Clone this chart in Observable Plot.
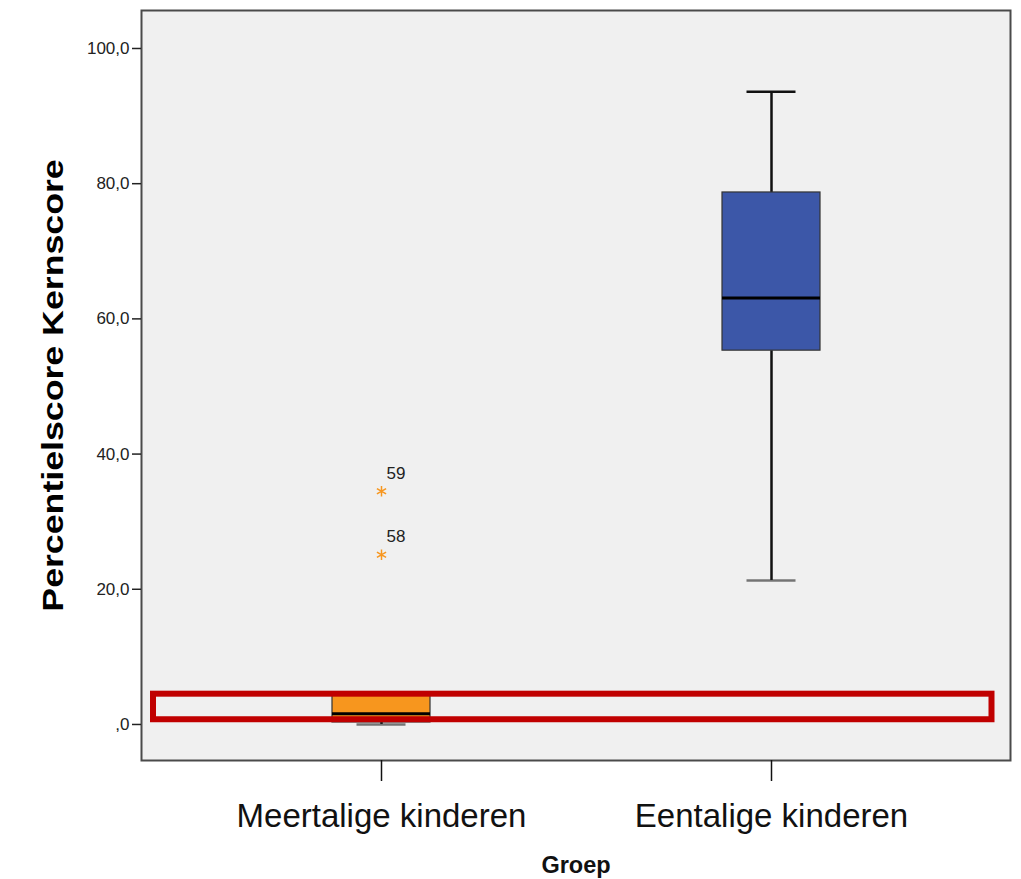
<!DOCTYPE html>
<html>
<head>
<meta charset="utf-8">
<script src="https://cdn.jsdelivr.net/npm/d3@7"></script>
<script src="https://cdn.jsdelivr.net/npm/@observablehq/plot@0.6"></script>
<style>
  html, body { margin: 0; padding: 0; background: #ffffff; }
  #chart svg { display: block; }
</style>
</head>
<body>
<div id="chart"></div>
<script>
// Groups (x categories)
const groups = ["Meertalige kinderen", "Eentalige kinderen"];
// Box-plot summary values per group
const lowerWhisker = [0.0, 21.3];
const q1 = [0.3, 55.3];
const median = [1.6, 63.1];
const q3 = [4.3, 78.7];
const upperWhisker = [4.3, 93.6];
const boxColors = ["#f7961e", "#3c57a8"];
// Outliers (extreme values) with case labels
const outlierGroup = ["Meertalige kinderen", "Meertalige kinderen"];
const outlierValue = [25.1, 34.5];
const outlierLabel = ["58", "59"];
// Y ticks
const yTicks = [0, 20, 40, 60, 80, 100];
// Highlight annotation (value range)
const highlightLow = [0.7];
const highlightHigh = [4.48];

const yLabel = "Percentielscore Kernscore";
const xLabel = "Groep";

const boxes = groups.map((g, i) => ({
  group: g, lo: lowerWhisker[i], q1: q1[i], med: median[i], q3: q3[i], hi: upperWhisker[i], color: boxColors[i]
}));
const outliers = outlierValue.map((v, i) => ({group: outlierGroup[i], value: v, label: outlierLabel[i]}));
const highlight = highlightLow.map((lo, i) => ({lo, hi: highlightHigh[i]}));

const fmt = d => d === 0 ? ",0" : d.toFixed(1).replace(".", ",");

const chart = Plot.plot({
  width: 1021,
  height: 879,
  marginLeft: 141,
  marginRight: 11,
  marginTop: 10,
  marginBottom: 119,
  style: {fontFamily: "'Liberation Sans', Arial, sans-serif", background: "#ffffff"},
  x: {type: "band", domain: groups, paddingInner: 0.7494, paddingOuter: 0.486},
  y: {domain: [-5.33, 105.62]},
  marks: [
    Plot.frame({fill: "#f0f0f0", stroke: "none"}),
    // whiskers
    Plot.ruleX(boxes, {x: "group", y1: "lo", y2: "q1", stroke: "#111", strokeWidth: 2.5}),
    Plot.ruleX(boxes, {x: "group", y1: "q3", y2: "hi", stroke: "#111", strokeWidth: 2.5}),
    Plot.tickY(boxes, {x: "group", y: "lo", stroke: "#222", strokeWidth: 2.5, insetLeft: 24.5, insetRight: 24.5, strokeOpacity: 0.6}),
    Plot.tickY(boxes.filter(d => d.hi > d.q3), {x: "group", y: "hi", stroke: "#111", strokeWidth: 2.5, insetLeft: 24.5, insetRight: 24.5}),
    // boxes
    Plot.barY(boxes, {x: "group", y1: "q1", y2: "q3", fill: "color", stroke: "#333", strokeWidth: 1.2}),
    Plot.tickY(boxes, {x: "group", y: "med", stroke: "#000", strokeWidth: 3}),
    // outliers
    Plot.dot(outliers, {x: "group", y: "value", symbol: "asterisk", r: 5, stroke: "#f7961e", strokeWidth: 1.5}),
    Plot.text(outliers, {x: "group", y: "value", text: "label", dx: 5, dy: -18, textAnchor: "start", fontSize: 17, fill: "#222"}),
    // highlight annotation
    Plot.rect(highlight, {y1: "lo", y2: "hi", fill: "none", stroke: "#c00000", strokeWidth: 6, insetLeft: 12, insetRight: 18.5}),
    Plot.frame({stroke: "#4a4a4a", strokeWidth: 2}),
    // axes
    Plot.axisY({ticks: yTicks, tickFormat: fmt, tickSize: 9, tickPadding: 3, fontSize: 17, color: "#222", label: null, strokeWidth: 1.5}),
    Plot.axisX({tickSize: 21, tickPadding: 22, fontSize: 33, color: "#111", label: null, strokeWidth: 1.5}),
    Plot.text([yLabel], {frameAnchor: "left", textAnchor: "middle", lineAnchor: "middle", dx: -88, rotate: -90, fontSize: 30, fontWeight: "bold", fill: "#000"}),
    Plot.text([xLabel], {frameAnchor: "bottom", textAnchor: "middle", lineAnchor: "middle", dy: 105, fontSize: 23.5, fontWeight: "bold", fill: "#111"})
  ]
});
// stretch the y title along its length, as in the reference rendering
d3.select(chart).selectAll("text")
  .filter(function() { return this.textContent === yLabel; })
  .attr("transform", function() { return (this.getAttribute("transform") || "") + " scale(1.19,1)"; });
document.getElementById("chart").appendChild(chart);
</script>
</body>
</html>
